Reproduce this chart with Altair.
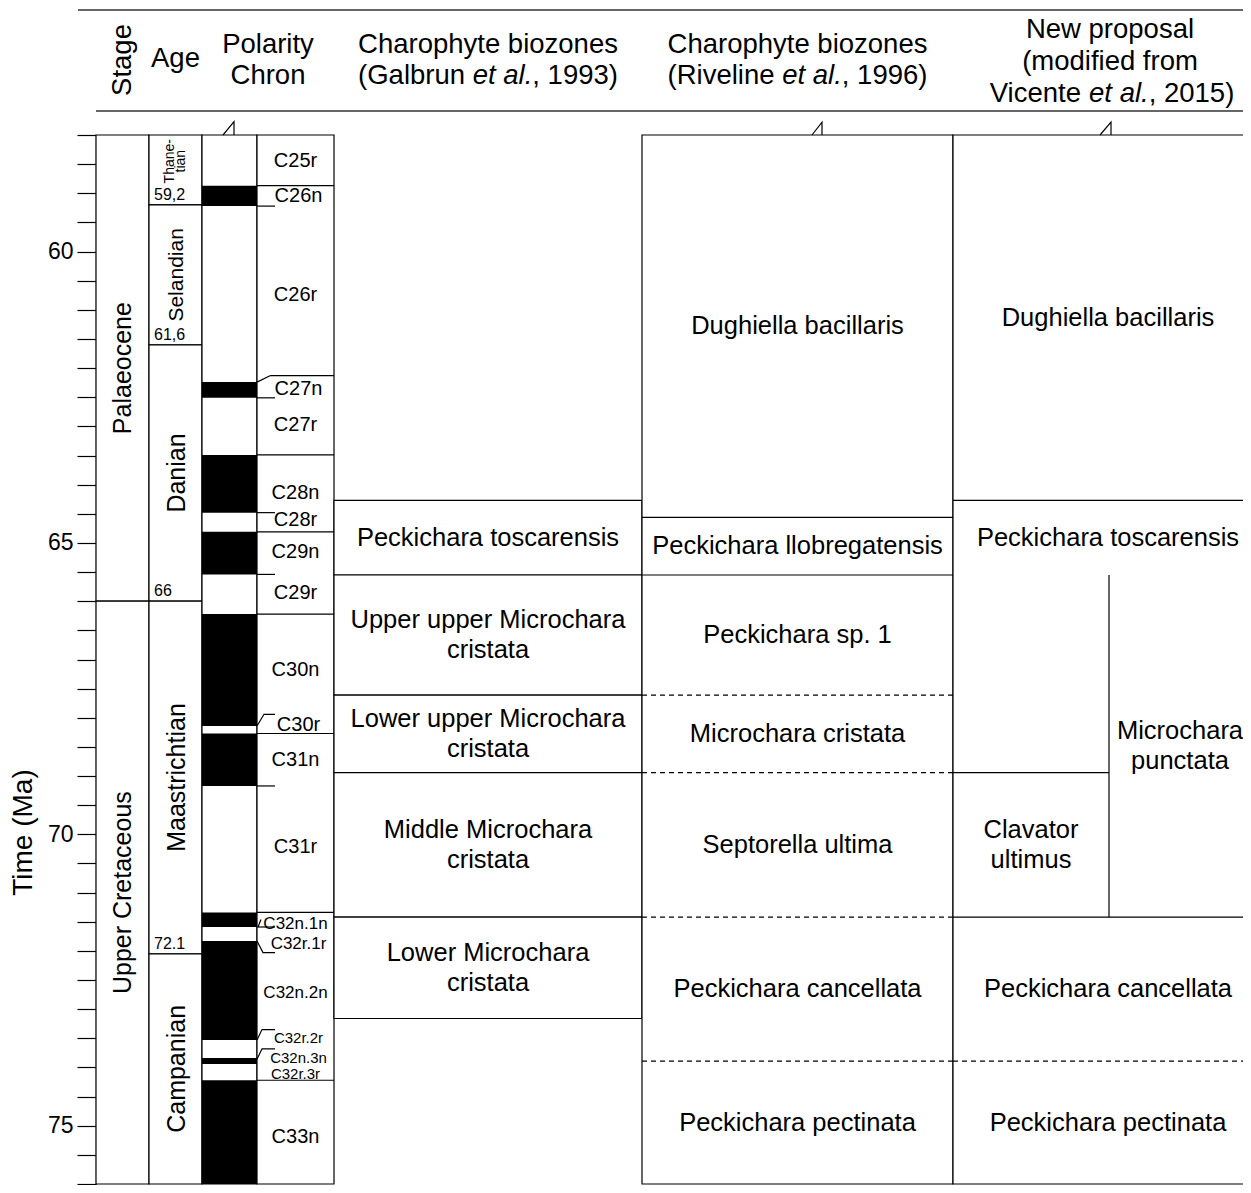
import altair as alt
import pandas as pd

# ---------------- data (ages in Ma) ----------------
stage_names = ["Palaeocene", "Upper Cretaceous"]
stage_tops = [58.0, 66.0]
stage_bases = [66.0, 76.0]

age_names = ["Thane-\ntian", "Selandian", "Danian", "Maastrichtian", "Campanian"]
age_tops = [58.0, 59.2, 61.6, 66.0, 72.05]
age_bases = [59.2, 61.6, 66.0, 72.05, 76.0]
age_limit_labels = ["59,2", "61,6", "66", "72.1"]
age_limit_values = [59.2, 61.6, 66.0, 72.05]

chron_names = ["C25r", "C26n", "C26r", "C27n", "C27r", "C28n", "C28r", "C29n", "C29r",
               "C30n", "C30r", "C31n", "C31r", "C32n.1n", "C32r.1r", "C32n.2n",
               "C32r.2r", "C32n.3n", "C32r.3r", "C33n"]
chron_tops = [58.0, 58.87, 59.22, 62.24, 62.51, 63.49, 64.48, 64.81, 65.54,
              66.22, 68.14, 68.27, 69.17, 71.34, 71.59, 71.83, 73.53, 73.84, 73.94, 74.22]
chron_bases = [58.87, 59.22, 62.24, 62.51, 63.49, 64.48, 64.81, 65.54, 66.22,
               68.14, 68.27, 69.17, 71.34, 71.59, 71.83, 73.53, 73.84, 73.94, 74.22, 76.0]
chron_normal = [False, True, False, True, False, True, False, True, False,
                True, False, True, False, True, False, True, False, True, False, True]
chron_label_ages = [58.44, 59.04, 60.74, 62.36, 62.97, 64.14, 64.60, 65.16, 65.86,
                    67.18, 68.12, 68.73, 70.22, 71.54, 71.88, 72.72, 73.50, 73.83, 74.12, 75.20]
chron_full_limits = [58.87, 63.49, 64.81, 66.22, 68.27, 71.34, 74.22]
chron_short_limits = [59.22, 62.51, 64.48, 65.54, 69.17, 71.59]

galbrun_names = ["Peckichara toscarensis", "Upper upper Microchara\ncristata",
                 "Lower upper Microchara\ncristata", "Middle Microchara\ncristata",
                 "Lower Microchara\ncristata"]
galbrun_tops = [64.27, 65.55, 67.61, 68.94, 71.42]
galbrun_bases = [65.55, 67.61, 68.94, 71.42, 73.16]

riveline_names = ["Dughiella bacillaris", "Peckichara llobregatensis", "Peckichara sp. 1",
                  "Microchara cristata", "Septorella ultima", "Peckichara cancellata",
                  "Peckichara pectinata"]
riveline_tops = [58.0, 64.56, 65.55, 67.61, 68.94, 71.42, 73.89]
riveline_bases = [64.56, 65.55, 67.61, 68.94, 71.42, 73.89, 76.0]
riveline_dashed = [False, False, False, True, True, True, True]

new_names = ["Dughiella bacillaris", "Peckichara toscarensis", "Clavator\nultimus",
             "Microchara\npunctata", "Peckichara cancellata", "Peckichara pectinata"]
new_tops = [58.0, 64.27, 68.94, 65.55, 71.42, 73.89]
new_bases = [64.27, 65.55, 71.42, 71.42, 73.89, 76.0]
new_part = ["full", "full", "left", "right", "full", "full"]

axis_ticks = [58.0, 58.5, 59.0, 59.5, 60.0, 60.5, 61.0, 61.5, 62.0, 62.5, 63.0, 63.5,
              64.0, 64.5, 65.0, 65.5, 66.0, 66.5, 67.0, 67.5, 68.0, 68.5, 69.0, 69.5,
              70.0, 70.5, 71.0, 71.5, 72.0, 72.5, 73.0, 73.5, 74.0, 74.5, 75.0, 75.5, 76.0]

# ---------------- layout (pixel columns) ----------------
X_STAGE, X_AGE, X_POL, X_CHR, X_GAL, X_RIV, X_NEW, X_SPLIT, X_END = 96, 149, 202, 257, 334, 642, 953, 1109, 1263
X_SHORT = 275
FONT = "Liberation Sans"
LW = 1.2
TOP = 135  # page row of the plot top (58 Ma); header rows are given as page rows

rows_box, rows_text = [], []
def box(x, x2, y, y2):
    rows_box.append(dict(x=x, x2=x2, y=y, y2=y2))

def label(x, y, t, fs, ang=0):
    rows_text.append(dict(x=x, y=y, t=t, fs=fs, ang=ang, ml=("\n" in t)))

for n, t, b in zip(stage_names, stage_tops, stage_bases):
    box(X_STAGE, X_AGE, t, b)
    label((X_STAGE + X_AGE) / 2, (t + b) / 2, n, 25, 270)
thanet = []
for n, t, b in zip(age_names, age_tops, age_bases):
    box(X_AGE, X_POL, t, b)
    if "\n" in n:
        thanet.append(dict(x=(X_AGE + X_POL) / 2, y=(t + b) / 2 - 0.15, t=n))
    else:
        label((X_AGE + X_POL) / 2 + 1, (t + b) / 2, n, 21 if n == "Selandian" else 25, 270)
box(X_POL, X_CHR, 58.0, 76.0)
box(X_CHR, X_GAL, 58.0, 76.0)
for n, t, b in zip(galbrun_names, galbrun_tops, galbrun_bases):
    box(X_GAL, X_RIV, t, b)
    label((X_GAL + X_RIV) / 2, (t + b) / 2, n, 25.5)
box(X_RIV, X_NEW, 58.0, 76.0)
for n, t, b in zip(riveline_names, riveline_tops, riveline_bases):
    label((X_RIV + X_NEW) / 2, (t + b) / 2, n, 25.5)
box(X_NEW, X_END, 58.0, 76.0)
for n, t, b, p in zip(new_names, new_tops, new_bases, new_part):
    xc = {"full": (X_NEW + X_END) / 2, "left": (X_NEW + X_SPLIT) / 2, "right": (X_SPLIT + X_END) / 2 - 6}[p]
    label(xc, (t + b) / 2, n, 25.5)

small_a = ("C32n.1n", "C32r.1r", "C32n.2n")
small_b = ("C32r.2r", "C32n.3n", "C32r.3r")
for n, a in zip(chron_names, chron_label_ages):
    fs = 17 if n in small_a else (15 if n in small_b else 20)
    dx = 3 if n in ("C26n", "C27n", "C30r", "C32r.2r", "C32r.1r", "C32n.3n") else 0
    label((X_CHR + X_GAL) / 2 + dx, a, n, fs)

box_df = pd.DataFrame(rows_box)
text_df = pd.DataFrame(rows_text)

pol_df = pd.DataFrame(dict(x=X_POL, x2=X_CHR, y=chron_tops, y2=chron_bases, n=chron_normal))
pol_df = pol_df[pol_df.n]

solid, dashed = [], []
for v in chron_full_limits:
    solid.append(dict(x=X_CHR, x2=X_GAL, y=v))
for v in chron_short_limits:
    solid.append(dict(x=X_CHR, x2=X_SHORT, y=v))
solid.append(dict(x=270, x2=X_GAL, y=62.13))
for t, d in zip(riveline_tops[1:], riveline_dashed[1:]):
    (dashed if d else solid).append(dict(x=X_RIV, x2=X_NEW, y=t))
for t, b, p in zip(new_tops, new_bases, new_part):
    if t > 58 and p != "right":
        xe = X_SPLIT if p == "left" else X_END
        (dashed if t == 73.89 else solid).append(dict(x=X_NEW, x2=xe, y=t))
solid_df = pd.DataFrame(solid)
dashed_df = pd.DataFrame(dashed)
vert_df = pd.DataFrame([dict(x=X_SPLIT, y=65.55, y2=71.42)])

lines = []
def path(g, pts):
    for i, (px, py) in enumerate(pts):
        lines.append(dict(g=g, o=i, x=px, y=py))
path("l1", [(257, 62.24), (270, 62.13)])
path("l2", [(257, 68.14), (264, 67.94), (275, 67.94)])
path("l3", [(258, 71.59), (261, 71.46)])
path("l4", [(257, 71.83), (263, 72.03), (275, 72.03)])
path("l5", [(257, 73.53), (262, 73.35), (275, 73.35)])
path("l6", [(257, 73.86), (262, 73.68), (275, 73.68)])
path("b1", [(223, 58.0), (234, 57.77), (234, 58.0)])
path("b2", [(812, 58.0), (822, 57.78), (822, 58.0)])
path("b3", [(1100, 58.0), (1111, 57.78), (1111, 58.0)])
lines_df = pd.DataFrame(lines)

# ---------------- encodings ----------------
PLOT_H = 1049
XS = alt.Scale(domain=[96, 1243], nice=False, zero=False)
YS = alt.Scale(domain=[58, 76], reverse=True, nice=False, zero=False)
X = alt.X("x:Q", scale=XS, axis=None)
X2 = alt.X2("x2:Q")
Y = alt.Y("y:Q", scale=YS, axis=alt.Axis(
    values=axis_ticks, labelExpr="datum.value % 5 == 0 ? format(datum.value, 'd') : ''",
    tickSize=19, tickWidth=LW, tickColor="black", domainColor="black", domainWidth=LW,
    labelFontSize=23, labelFont=FONT, labelColor="black", labelPadding=4, grid=False,
    title="Time (Ma)", titleFont=FONT, titleFontSize=28, titleFontWeight="normal",
    titleColor="black", titleX=-59, titleY=697, titleAngle=270, titleBaseline="bottom",
    titleAlign="center"))
Y2 = alt.Y2("y2:Q")
HY = alt.Y("py:Q", scale=None)

boxes = alt.Chart(box_df).mark_rect(fill="white", stroke="black", strokeWidth=LW).encode(x=X, x2=X2, y=Y, y2=Y2)
pol = alt.Chart(pol_df).mark_rect(fill="black").encode(x=X, x2=X2, y=Y, y2=Y2)
srules = alt.Chart(solid_df).mark_rule(color="black", strokeWidth=LW).encode(x=X, x2=X2, y=Y)
drules = alt.Chart(dashed_df).mark_rule(color="black", strokeWidth=LW, strokeDash=[5, 4]).encode(x=X, x2=X2, y=Y)
vrule = alt.Chart(vert_df).mark_rule(color="black", strokeWidth=LW).encode(x=X, y=Y, y2=Y2)
leaders = alt.Chart(lines_df).mark_line(color="black", strokeWidth=LW).encode(
    x=X, y=Y, detail="g:N", order="o:Q")

one_line = alt.Chart(text_df[~text_df.ml]).mark_text(font=FONT, color="black", baseline="middle",
                                                     align="center").encode(
    x=X, y=Y, text="t:N", size=alt.Size("fs:Q", scale=None), angle=alt.Angle("ang:Q", scale=None))
two_line = alt.Chart(text_df[text_df.ml]).mark_text(font=FONT, color="black", baseline="middle",
                                                    align="center", lineBreak="\n", lineHeight=30,
                                                    dy=-15).encode(
    x=X, y=Y, text="t:N", size=alt.Size("fs:Q", scale=None))
thanet_txt = alt.Chart(pd.DataFrame(thanet)).mark_text(font=FONT, color="black", baseline="middle",
                                                       align="center", lineBreak="\n", lineHeight=11,
                                                       dy=-5.5, fontSize=14, angle=270).encode(
    x=X, y=Y, text="t:N")
lim_df = pd.DataFrame(dict(x=X_AGE + 5, y=age_limit_values, t=age_limit_labels))
limits = alt.Chart(lim_df).mark_text(font=FONT, fontSize=16, color="black", align="left",
                                     baseline="bottom", dy=-2).encode(x=X, y=Y, text="t:N")

# ---------------- header ----------------
AW = {' ': 278, '(': 333, ')': 333, ',': 278, '.': 278, '0': 556, '1': 556, '2': 556, '3': 556,
      '5': 556, '6': 556, '9': 556, 'G': 778, 'R': 722, 'V': 667, 'a': 556, 'b': 556, 'c': 500,
      'e': 556, 'i': 222, 'l': 222, 'n': 556, 'r': 333, 't': 278, 'u': 556, 'v': 500}
HF = 27.5
def tw(s):
    return sum(AW[c] for c in s) * HF / 1000

hdr_plain, hdr_ital = [], []
def hline(xc, py, text):
    hdr_plain.append(dict(x=xc, py=py - TOP, t=text, a="center"))
def hmixed(xc, py, pre, it, post):
    total = tw(pre + it + post)
    left = xc - total / 2
    hdr_plain.append(dict(x=left, py=py - TOP, t=pre.strip(), a="left"))
    hdr_ital.append(dict(x=left + tw(pre), py=py - TOP, t=it))
    hdr_plain.append(dict(x=left + tw(pre + it), py=py - TOP, t=post, a="left"))

hline((X_AGE + X_POL) / 2, 59, "Age")
hline((X_POL + X_GAL) / 2, 45, "Polarity")
hline((X_POL + X_GAL) / 2, 76, "Chron")
hline((X_GAL + X_RIV) / 2, 45, "Charophyte biozones")
hmixed((X_GAL + X_RIV) / 2, 76, "(Galbrun ", "et al.", ", 1993)")
hline((X_RIV + X_NEW) / 2, 45, "Charophyte biozones")
hmixed((X_RIV + X_NEW) / 2, 76, "(Riveline ", "et al.", ", 1996)")
hline(1110, 30, "New proposal")
hline(1110, 62, "(modified from")
hmixed(1112, 94, "Vicente ", "et al.", ", 2015)")
hp = pd.DataFrame(hdr_plain)
hi = pd.DataFrame(hdr_ital)

hdr_layers = []
for a in ["center", "left"]:
    hdr_layers.append(alt.Chart(hp[hp.a == a]).mark_text(font=FONT, fontSize=HF, color="black", align=a,
                                                          baseline="middle").encode(
        x=X, y=HY, text="t:N"))
hdr_layers.append(alt.Chart(hi).mark_text(font=FONT, fontSize=HF, fontStyle="italic", color="black",
                                          align="left", baseline="middle").encode(
    x=X, y=HY, text="t:N"))
stage_hdr = alt.Chart(pd.DataFrame([dict(x=(X_STAGE + X_AGE) / 2, py=60 - TOP, t="Stage")])).mark_text(
    font=FONT, fontSize=HF, color="black", angle=270, baseline="middle", align="center").encode(
    x=X, y=HY, text="t:N")
hrules_df = pd.DataFrame([dict(x=78, x2=1251, py=10 - TOP), dict(x=96, x2=1251, py=111 - TOP)])
hrules = alt.Chart(hrules_df).mark_rule(color="#333", strokeWidth=1.5).encode(x=X, x2=X2, y=HY)

chart = alt.layer(boxes, pol, srules, drules, vrule, leaders, one_line, two_line, thanet_txt, limits,
                  hrules, stage_hdr, *hdr_layers).properties(
    width=1147, height=PLOT_H, autosize="none",
    padding={"left": 88, "top": 127, "right": 0, "bottom": 1},
    background="white").configure_view(stroke=None)

chart.save("out.html", embed_options={"renderer": "svg", "actions": False})
